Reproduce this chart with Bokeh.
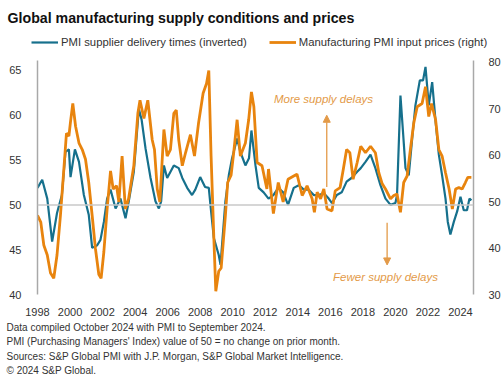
from bokeh.plotting import figure
from bokeh.layouts import column
from bokeh.models import (Range1d, LinearAxis, FixedTicker, Span, Label, Legend, LegendItem,
                          Arrow, NormalHead)
from bokeh.embed import file_html
from bokeh.resources import INLINE

# ---------------- data ----------------
delivery_t = [1998.00, 1998.29, 1998.60, 1998.90, 1999.20, 1999.50, 1999.72, 1999.93, 2000.03, 2000.30,
              2000.55, 2000.85, 2001.15, 2001.36, 2001.67, 2001.87, 2002.08, 2002.28, 2002.49, 2002.80,
              2003.10, 2003.41, 2003.61, 2003.92, 2004.23, 2004.40, 2004.64, 2004.95, 2005.25, 2005.46,
              2005.60, 2005.77, 2005.97, 2006.38, 2006.68, 2006.90, 2007.20, 2007.50, 2007.70, 2008.00,
              2008.30, 2008.53, 2008.63, 2008.84, 2009.14, 2009.25, 2009.55, 2009.76, 2009.96, 2010.27,
              2010.47, 2010.78, 2011.00, 2011.15, 2011.40, 2011.60, 2011.90, 2012.20, 2012.50, 2012.80,
              2013.10, 2013.40, 2013.75, 2014.06, 2014.37, 2014.67, 2014.98, 2015.29, 2015.60, 2015.90,
              2016.10, 2016.40, 2016.70, 2017.00, 2017.30, 2017.65, 2017.87, 2018.16, 2018.47, 2018.77,
              2019.08, 2019.39, 2019.70, 2020.00, 2020.10, 2020.31, 2020.48, 2020.62, 2020.82, 2021.03,
              2021.23, 2021.50, 2021.70, 2021.85, 2022.05, 2022.26, 2022.47, 2022.67, 2022.87, 2023.08,
              2023.22, 2023.38, 2023.59, 2023.80, 2024.00, 2024.20, 2024.40, 2024.55, 2024.67]
delivery_v = [51.9, 52.8, 50.7, 45.9, 49.1, 51.1, 55.9, 56.2, 53.1, 56.2,
              54.8, 51.1, 48.9, 45.2, 45.5, 46.1, 48.1, 50.7, 51.7, 49.6,
              50.7, 48.5, 50.4, 53.7, 60.7, 59.5, 56.3, 53.0, 50.4, 49.6,
              50.4, 54.4, 53.0, 54.4, 54.1, 53.0, 51.9, 51.1, 51.7, 53.1,
              52.0, 51.9, 50.0, 46.3, 44.4, 43.3, 50.4, 53.3, 55.2, 57.4,
              55.9, 54.4, 55.2, 58.3, 54.4, 51.9, 51.4, 50.7, 51.1, 51.9,
              51.4, 50.0, 51.9, 52.2, 51.7, 51.7, 51.1, 51.1, 51.3, 50.7,
              50.2, 51.1, 51.4, 52.6, 53.0, 53.7, 54.1, 54.8, 55.6, 54.1,
              52.2, 50.7, 50.0, 50.2, 51.1, 62.2, 57.8, 54.1, 53.3, 57.4,
              61.1, 63.9, 63.9, 65.4, 61.1, 63.7, 59.3, 55.6, 53.3, 50.7,
              48.1, 46.7, 48.1, 49.3, 50.9, 49.4, 49.4, 50.7, 50.5]

prices_t = [1998.00, 1998.20, 1998.39, 1998.60, 1998.80, 1999.00, 1999.20, 1999.41, 1999.62, 1999.78,
            1999.93, 2000.03, 2000.17, 2000.34, 2000.55, 2000.75, 2000.95, 2001.15, 2001.36, 2001.56,
            2001.77, 2001.91, 2002.08, 2002.28, 2002.49, 2002.65, 2002.86, 2003.00, 2003.20, 2003.40,
            2003.60, 2003.92, 2004.17, 2004.30, 2004.54, 2004.78, 2005.05, 2005.19, 2005.36, 2005.52,
            2005.77, 2005.97, 2006.17, 2006.38, 2006.53, 2006.68, 2006.90, 2007.10, 2007.40, 2007.65,
            2007.90, 2008.18, 2008.39, 2008.53, 2008.67, 2008.84, 2008.96, 2009.14, 2009.29, 2009.55,
            2009.69, 2009.90, 2010.06, 2010.27, 2010.47, 2010.78, 2010.98, 2011.15, 2011.30, 2011.50,
            2011.80, 2012.10, 2012.20, 2012.50, 2012.80, 2013.10, 2013.40, 2013.75, 2013.95, 2014.27,
            2014.57, 2014.88, 2015.02, 2015.19, 2015.40, 2015.60, 2015.80, 2016.10, 2016.30, 2016.60,
            2016.80, 2017.00, 2017.20, 2017.40, 2017.65, 2017.87, 2018.16, 2018.47, 2018.77, 2018.98,
            2019.18, 2019.39, 2019.70, 2019.90, 2020.10, 2020.31, 2020.51, 2020.72, 2020.92, 2021.13,
            2021.34, 2021.64, 2021.85, 2022.05, 2022.22, 2022.47, 2022.67, 2022.87, 2023.08, 2023.30,
            2023.50, 2023.70, 2023.90, 2024.10, 2024.30, 2024.45, 2024.67]
prices_v = [47.0, 45.6, 40.6, 38.5, 34.6, 33.5, 38.5, 47.0, 57.0, 64.7,
            64.1, 67.2, 71.1, 66.2, 62.6, 61.2, 59.1, 54.1, 47.0, 39.9,
            34.3, 33.5, 39.2, 48.4, 56.6, 52.7, 53.4, 49.9, 59.8, 48.4,
            50.6, 57.7, 69.0, 71.8, 67.9, 71.8, 63.3, 61.2, 52.7, 49.9,
            65.5, 59.8, 61.2, 69.0, 69.7, 63.3, 57.7, 60.5, 64.4, 59.8,
            66.9, 73.3, 75.4, 78.2, 59.8, 42.1, 30.7, 35.0, 35.7, 47.0,
            54.1, 55.7, 60.5, 67.6, 59.8, 62.6, 67.6, 73.6, 70.4, 58.4,
            57.7, 52.7, 57.0, 47.4, 54.1, 49.9, 54.8, 55.5, 55.9, 51.3,
            53.4, 50.6, 47.7, 52.0, 50.6, 52.7, 48.4, 48.0, 52.3, 53.0,
            57.0, 61.2, 60.5, 54.8, 58.4, 61.9, 60.5, 61.9, 60.5, 56.2,
            53.9, 52.7, 50.6, 51.3, 51.6, 47.7, 54.1, 55.5, 61.2, 66.9,
            70.4, 71.1, 74.7, 68.3, 71.1, 67.6, 61.2, 59.8, 56.2, 52.7,
            48.4, 52.7, 53.0, 52.7, 54.1, 55.2, 55.2]

year_ticks = [1998, 2000, 2002, 2004, 2006, 2008, 2010, 2012, 2014, 2016, 2018, 2020, 2022, 2024]
left_ticks = [40, 45, 50, 55, 60, 65]
right_ticks = [30, 40, 50, 60, 70, 80]

title_text = "Global manufacturing supply conditions and prices"
series_names = ["PMI supplier delivery times (inverted)", "Manufacturing PMI input prices (right)"]
footer_lines = ["Data compiled October 2024 with PMI to September 2024.",
                "PMI (Purchasing Managers' Index) value of 50 = no change on prior month.",
                "Sources: S&P Global PMI with J.P. Morgan, S&P Global Market Intelligence.",
                "\u00a9 2024 S&P Global."]

BLUE = "#16708C"
ORANGE = "#E8840E"
ANN = "#E39A48"
TXT = "#333333"
FONT = "Liberation Sans"
W = 503


def blank(height):
    f = figure(width=W, height=height, output_backend="svg", toolbar_location=None,
               x_range=Range1d(0, W), y_range=Range1d(0, height),
               min_border=0, min_border_left=0, min_border_right=0,
               min_border_top=0, min_border_bottom=0, frame_align=False)
    f.axis.visible = False
    f.grid.visible = False
    f.outline_line_color = None
    return f


# ---------------- header: title + legend ----------------
HH = 50
header = blank(HH)
header.add_layout(Label(x=7, y=HH - 17, text=title_text, text_font=FONT,
                        text_font_size="14.2px", text_font_style="bold",
                        text_color="#111111", text_baseline="middle"))
# legend swatches reuse the series (they fall outside this header's ranges)
h1 = header.line(delivery_t, delivery_v, line_color=BLUE, line_width=2.2)
h2 = header.line(prices_t, prices_v, line_color=ORANGE, line_width=2.8)
legend = Legend(items=[LegendItem(label=series_names[0], renderers=[h1]),
                       LegendItem(label=series_names[1], renderers=[h2])],
                orientation="horizontal", location=(31, 2), label_text_font=FONT,
                label_text_font_size="11.3px", label_text_color=TXT, glyph_width=27,
                glyph_height=12, label_standoff=3, spacing=22, padding=0, margin=0,
                border_line_color=None, background_fill_alpha=0)
header.add_layout(legend, "center")

# ---------------- main chart ----------------
p = figure(width=W, height=268, output_backend="svg", toolbar_location=None,
           x_range=Range1d(1998.0, 2024.8), y_range=Range1d(40, 40 + 235 / 9),
           min_border_left=37, min_border_right=30, min_border_top=10, min_border_bottom=23,
           frame_align=False)
p.extra_y_ranges = {"right": Range1d(30, 30 + 235 / 4.667)}
p.outline_line_color = None
p.xgrid.visible = False
p.ygrid.visible = False

xa = p.xaxis[0]
xa.ticker = FixedTicker(ticks=year_ticks)
xa.major_label_overrides = {t: str(t) for t in year_ticks}
xa.axis_line_color = None
xa.major_tick_line_color = None
xa.minor_tick_line_color = None
xa.major_label_text_font = FONT
xa.major_label_text_font_size = "11px"
xa.major_label_text_color = TXT
xa.major_label_standoff = 7

ya = p.yaxis[0]
ya.ticker = FixedTicker(ticks=left_ticks)
ya.axis_line_color = "#A8A8A8"
ya.axis_line_width = 1.5
ya.major_tick_line_color = None
ya.minor_tick_line_color = None
ya.major_label_text_font = FONT
ya.major_label_text_font_size = "11px"
ya.major_label_text_color = TXT
ya.major_label_standoff = 10

ra = LinearAxis(y_range_name="right", ticker=FixedTicker(ticks=right_ticks))
ra.axis_line_color = "#A8A8A8"
ra.axis_line_width = 1.5
ra.major_tick_line_color = None
ra.minor_tick_line_color = None
ra.major_label_text_font = FONT
ra.major_label_text_font_size = "11px"
ra.major_label_text_color = TXT
ra.major_label_standoff = 9
p.add_layout(ra, "right")

p.add_layout(Span(location=50, dimension="width", line_color="#C8C8C8", line_width=1.5))

p.line(delivery_t, delivery_v, line_color=BLUE, line_width=2.2)
p.line(prices_t, prices_v, line_color=ORANGE, line_width=2.8, y_range_name="right")

p.add_layout(Arrow(end=NormalHead(size=7, fill_color=ANN, line_color=ANN), line_color=ANN,
                   line_width=1.3, x_start=2015.78, y_start=52.0, x_end=2015.78, y_end=60.0))
p.add_layout(Arrow(end=NormalHead(size=7, fill_color=ANN, line_color=ANN), line_color=ANN,
                   line_width=1.3, x_start=2019.49, y_start=48.0, x_end=2019.49, y_end=43.3))
p.add_layout(Label(x=2015.58, y=61.8, text="More supply delays", text_align="center",
                   text_baseline="middle", text_font=FONT, text_font_size="11.5px",
                   text_font_style="italic", text_color=ANN))
p.add_layout(Label(x=2019.39, y=42.0, text="Fewer supply delays", text_align="center",
                   text_baseline="middle", text_font=FONT, text_font_size="11.5px",
                   text_font_style="italic", text_color=ANN))

# ---------------- footer ----------------
FH = 62
footer = blank(FH)
for i, line in enumerate(footer_lines):
    footer.add_layout(Label(x=6, y=FH - (8.5 + 14.6 * i), text=line, text_font=FONT,
                            text_font_size="10px", text_color=TXT, text_baseline="middle"))

layout = column(header, p, footer, spacing=0)
open("out.html", "w").write(file_html(layout, INLINE))
